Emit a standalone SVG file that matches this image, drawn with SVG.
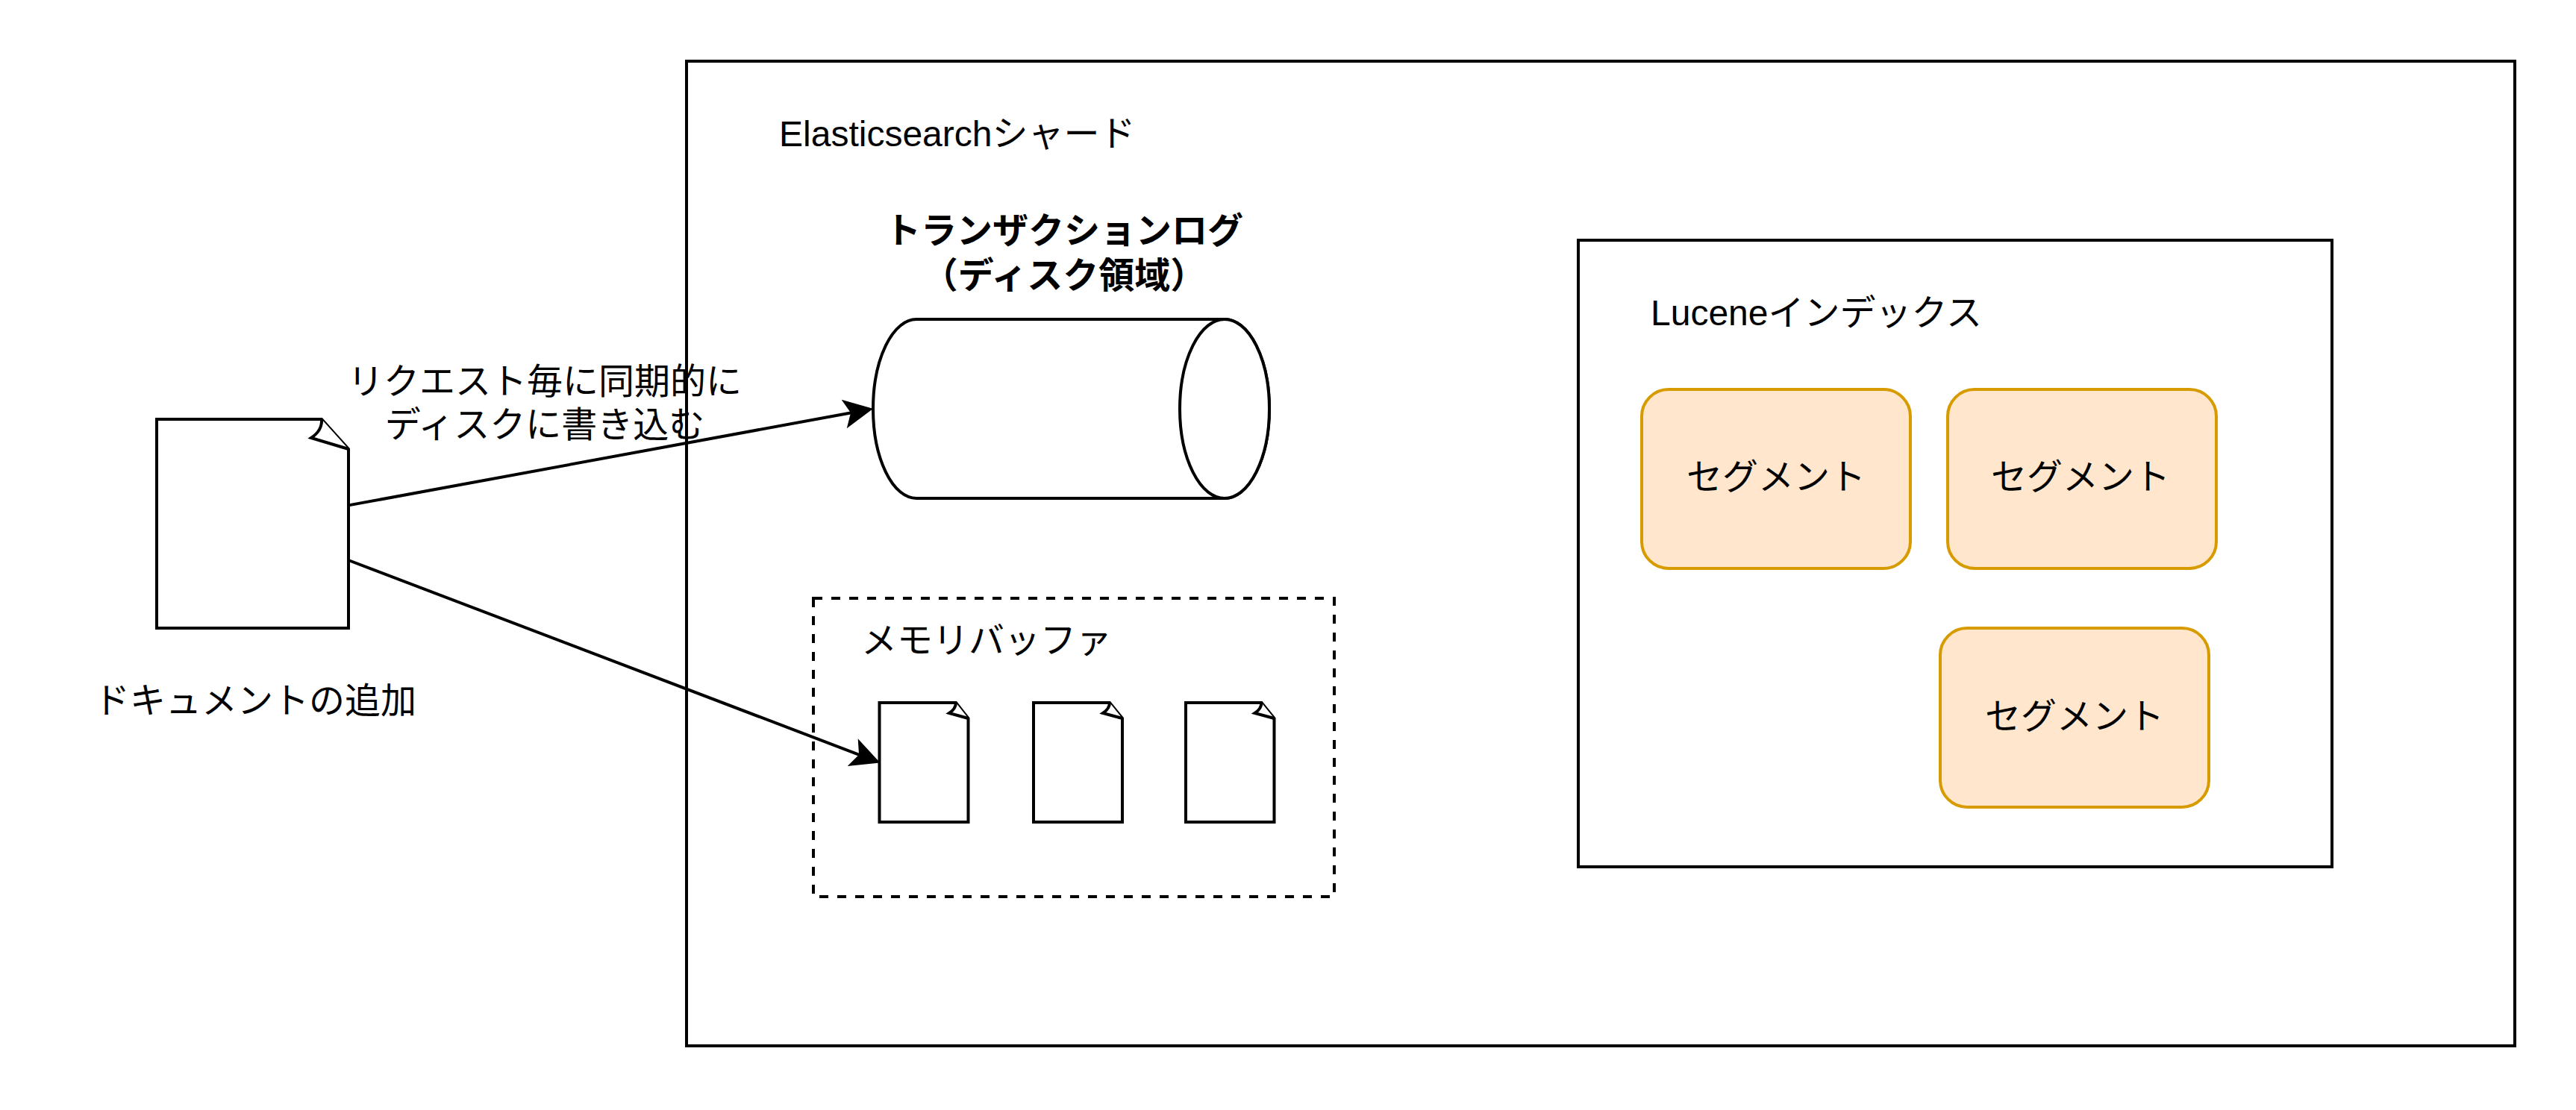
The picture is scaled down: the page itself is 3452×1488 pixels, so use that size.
<svg xmlns="http://www.w3.org/2000/svg" width="3452" height="1488" viewBox="0 0 3452 1488">
<style>
text{font-family:"Liberation Sans","Noto Sans CJK JP",sans-serif;font-size:48px;fill:#000}
.m{text-anchor:middle}
.b{font-weight:bold}
.box{fill:none;stroke:#000;stroke-width:4}
.doc{fill:#fff;stroke:#000;stroke-width:4;stroke-linejoin:miter}
.seg{fill:#ffe6cc;stroke:#d79b00;stroke-width:4}
.conn{fill:none;stroke:#000;stroke-width:4;marker-end:url(#arrow)}
</style>
<defs>
<marker id="arrow" markerUnits="userSpaceOnUse" markerWidth="50" markerHeight="50" viewBox="0 0 50 50" refX="11" refY="25" orient="auto">
<path d="M38,25 L3,7.5 L11,25 L3,42.5 Z" fill="#000" stroke="#000" stroke-width="2"/>
</marker>
</defs>
<rect width="3452" height="1488" fill="#fff"/>
<g id="shard">
<rect class="box" x="920" y="82" width="2450" height="1320"/>
<text x="1044" y="196">Elasticsearchシャード</text>
</g>
<g id="lucene-index">
<rect class="box" x="2115" y="322" width="1010" height="840"/>
<text x="2212" y="436">Luceneインデックス</text>
</g>
<g id="segment-1">
<rect class="seg" x="2200" y="522" width="360" height="240" rx="36" ry="36"/>
<text class="m" x="2380" y="656">セグメント</text>
</g>
<g id="segment-2">
<rect class="seg" x="2610" y="522" width="360" height="240" rx="36" ry="36"/>
<text class="m" x="2788" y="656">セグメント</text>
</g>
<g id="segment-3">
<rect class="seg" x="2600" y="842" width="360" height="240" rx="36" ry="36"/>
<text class="m" x="2780" y="977">セグメント</text>
</g>
<g id="transaction-log">
<path class="doc" d="M1228,428 H1641 A60,120 0 0 1 1641,668 H1228 A58,120 0 0 1 1228,428 Z"/>
<ellipse class="doc" cx="1641" cy="548" rx="60" ry="120"/>
<text class="m b" x="1426" y="326">トランザクションログ</text>
<text class="m b" x="1426" y="386">（ディスク領域）</text>
</g>
<g id="memory-buffer">
<rect x="1090" y="802" width="698" height="400" fill="none" stroke="#000" stroke-width="4" stroke-dasharray="12 12"/>
<text x="1154" y="875">メモリバッファ</text>
</g>
<g id="buffer-doc-1">
<path class="doc" d="M1178.5,942 H1281 L1297.5,963 V1102 H1178.5 Z"/>
<path class="doc" d="M1281,942 Q1281,950 1272,956 L1297.5,963"/>
</g>
<g id="buffer-doc-2">
<path class="doc" d="M1385,942 H1487 L1504,963 V1102 H1385 Z"/>
<path class="doc" d="M1487,942 Q1487,950 1478,956 L1504,963"/>
</g>
<g id="buffer-doc-3">
<path class="doc" d="M1589,942 H1690.5 L1707.5,963 V1102 H1589 Z"/>
<path class="doc" d="M1690.5,942 Q1690.5,950 1681.5,956 L1707.5,963"/>
</g>
<g id="document">
<path class="doc" d="M210,562 H431 L467,602 V842 H210 Z"/>
<path class="doc" d="M431,562 Q432,577 417,587 L467,602"/>
<text class="m" x="342" y="956">ドキュメントの追加</text>
</g>
<g id="connectors">
<line class="conn" x1="467" y1="677.4" x2="1141.1" y2="553.2"/>
<line class="conn" x1="467" y1="751" x2="1152.1" y2="1012.1"/>
<text class="m" x="730" y="528">リクエスト毎に同期的に</text>
<text class="m" x="730" y="586">ディスクに書き込む</text>
</g>
</svg>
